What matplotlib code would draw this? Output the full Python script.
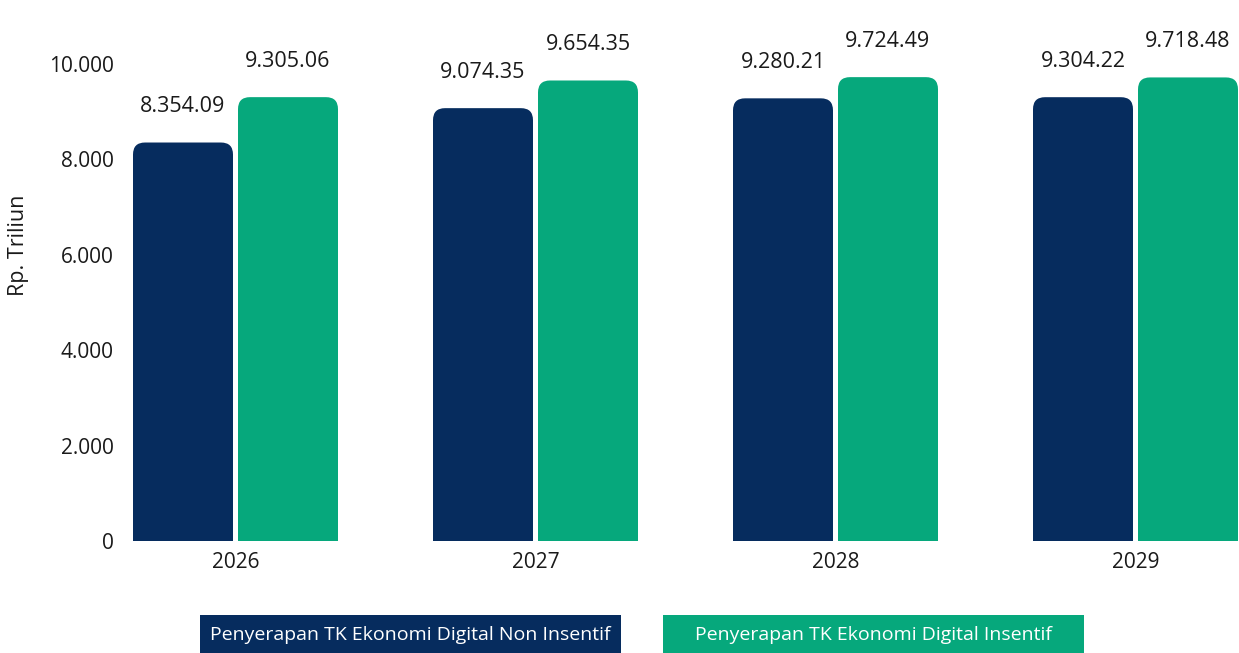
import numpy as np
import matplotlib
matplotlib.use("Agg")
import matplotlib.pyplot as plt
from matplotlib.patches import FancyBboxPatch, Rectangle

plt.rcParams['font.family'] = ['Open Sans', 'DejaVu Sans']

years = ['2026', '2027', '2028', '2029']
non_insentif = [8354.09, 9074.35, 9280.21, 9304.22]
insentif = [9305.06, 9654.35, 9724.49, 9718.48]
series_names = ['Penyerapan TK Ekonomi Digital Non Insentif',
                'Penyerapan TK Ekonomi Digital Insentif']
y_ticks = [0, 2000, 4000, 6000, 8000, 10000]

NAVY = '#062C5E'
GREEN = '#06A87C'
TEXT = '#1a1a1a'

W, H = 1239, 653
fig = plt.figure(figsize=(W / 100, H / 100), dpi=100)

# axes box in pixel terms
left_px, right_px = 125, 1239
bottom_px, top_px = 541, 64
ax = fig.add_axes([left_px / W, 1 - bottom_px / H,
                   (right_px - left_px) / W, (bottom_px - top_px) / H])

px_per_cat = 300.0
x0 = 235.5
ax.set_xlim((left_px - x0) / px_per_cat, (right_px - x0) / px_per_cat)
ax.set_ylim(0, 10000)

x = np.arange(len(years))
bar_w = 100 / px_per_cat
offset = 52.5 / px_per_cat

b1 = ax.bar(x - offset, non_insentif, width=bar_w, color=NAVY)
b2 = ax.bar(x + offset, insentif, width=bar_w, color=GREEN)

# swap plain bars for ones with rounded tops
x_per_px = 1 / px_per_cat
y_per_px = 10000 / (bottom_px - top_px)
radius_px = 12
rx = radius_px * x_per_px
ry = radius_px * y_per_px
for bars, color in [(b1, NAVY), (b2, GREEN)]:
    for r in bars:
        r.set_visible(False)
        bx, bw, bh = r.get_x(), r.get_width(), r.get_height()
        patch = FancyBboxPatch((bx, -ry * 2), bw, bh + ry * 2,
                               boxstyle=f"round,pad=0,rounding_size={rx}",
                               mutation_aspect=y_per_px / x_per_px,
                               facecolor=color, edgecolor='none')
        ax.add_patch(patch)
        ax.annotate(f"{bh:,.2f}".replace(',', '.'),
                    (bx + bw / 2, bh), xytext=(0, 36),
                    textcoords='offset pixels', ha='center', va='center',
                    fontsize=15.5, color=TEXT)

ax.set_xticks(x)
ax.set_xticklabels(years)
ax.set_yticks(y_ticks)
ax.set_yticklabels([f"{v:,}".replace(',', '.') for v in y_ticks])
ax.tick_params(length=0, labelsize=15, colors=TEXT)
ax.tick_params(axis='x', pad=8)
ax.tick_params(axis='y', pad=8)
for s in ax.spines.values():
    s.set_visible(False)

fig.text(19 / W, 1 - 245 / H, 'Rp. Triliun', rotation=90, ha='center',
         va='center', fontsize=15.5, color=TEXT)

# legend boxes
for (lx, color, name) in [(200, NAVY, series_names[0]),
                          (663, GREEN, series_names[1])]:
    fig.patches.append(Rectangle((lx / W, 0), 421 / W, 38 / H,
                                 transform=fig.transFigure,
                                 facecolor=color, edgecolor='none'))
    fig.text((lx + 210.5) / W, 1 - 635 / H, name, ha='center', va='center',
             fontsize=14, color='white')

fig.savefig('out.png', dpi=100)
